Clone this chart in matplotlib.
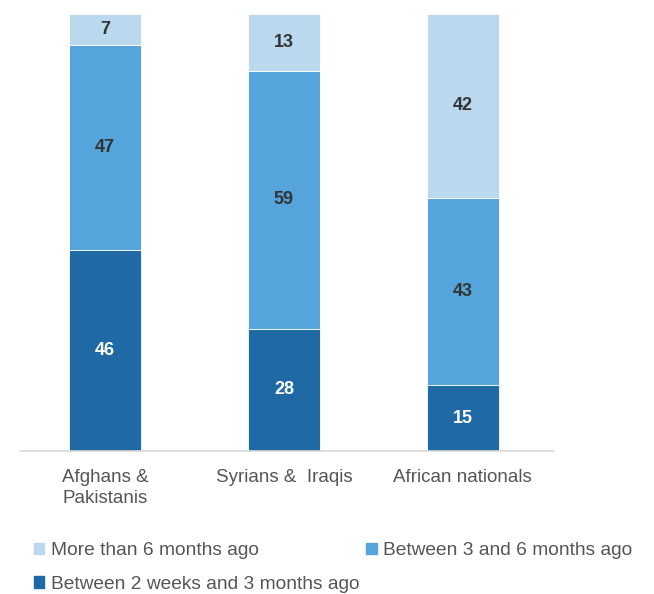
import matplotlib.pyplot as plt
import numpy as np
from matplotlib.patches import Patch

plt.rcParams["font.family"] = ["Liberation Sans", "DejaVu Sans"]

groups = ["Afghans &\nPakistanis", "Syrians &  Iraqis", "African nationals"]
recent = [46, 28, 15]      # between 2 weeks and 3 months ago
middle = [47, 59, 43]      # between 3 and 6 months ago
older = [7, 13, 42]        # more than 6 months ago
series_labels = ["Between 2 weeks and 3 months ago",
                 "Between 3 and 6 months ago",
                 "More than 6 months ago"]

DARK = "#1f6aa5"
MID = "#55a4dc"
LIGHT = "#bbd9ee"

fig = plt.figure(figsize=(6.54, 5.94), dpi=100)
ax = fig.add_axes([0.0306, 0.2407, 0.8165, 0.7357])

x = np.arange(len(groups))
width = 0.40
bottoms = np.zeros(len(groups))
for vals, color, txtcol in [(recent, DARK, "white"), (middle, MID, "#333333"), (older, LIGHT, "#333333")]:
    bars = ax.bar(x, vals, width, bottom=bottoms, color=color, edgecolor="white", linewidth=0.6)
    for bar, v, b in zip(bars, vals, bottoms):
        ax.text(bar.get_x() + bar.get_width() / 2, b + v / 2, f"{v}",
                ha="center", va="center", fontsize=13, fontweight="bold", color=txtcol)
    bottoms = bottoms + np.array(vals)

ax.set_xlim(-0.475, 2.51)
ax.set_ylim(0, 100)
ax.set_xticks(x)
ax.set_xticklabels(groups, fontsize=13.5, color="#555555", va="top", linespacing=1.3)
ax.tick_params(axis="x", length=0, pad=13)
ax.set_yticks([])
for spine in ("top", "right", "left"):
    ax.spines[spine].set_visible(False)
ax.spines["bottom"].set_color("#d9d9d9")
ax.spines["bottom"].set_linewidth(1.2)

handles = [Patch(color=LIGHT), Patch(color=DARK), Patch(color=MID)]
labels = [series_labels[2], series_labels[0], series_labels[1]]
fig.legend(handles, labels, ncol=2, loc="lower left", bbox_to_anchor=(0.025, -0.027),
           frameon=False, fontsize=13.8, labelcolor="#555555",
           handlelength=0.55, handleheight=0.55, handletextpad=0.35,
           columnspacing=0.35, labelspacing=0.85)

fig.savefig("out.png", dpi=100, facecolor="white")
